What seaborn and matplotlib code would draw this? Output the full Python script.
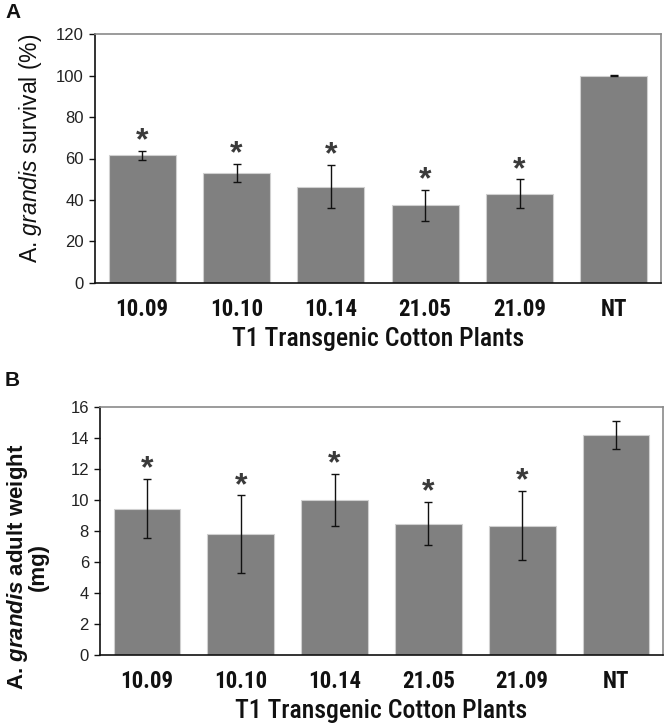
import matplotlib
matplotlib.use("Agg")
import matplotlib.pyplot as plt
import seaborn as sns
import pandas as pd
import numpy as np
from matplotlib import font_manager as fm

plants = ["10.09", "10.10", "10.14", "21.05", "21.09", "NT"]
survival = [61.5, 53.2, 46.5, 37.5, 43.0, 100.0]
survival_err = [2.3, 4.3, 10.5, 7.5, 7.0, 0.2]
weight = [9.45, 7.8, 10.02, 8.48, 8.35, 14.17]
weight_err = [1.9, 2.5, 1.68, 1.4, 2.25, 0.9]
star_a = [True, True, True, True, True, False]
star_b = [True, True, True, True, True, False]

sns.set_theme(style="white")

avail = {f.name for f in fm.fontManager.ttflist}
narrow = next((f for f in ["Liberation Sans Narrow", "Roboto Condensed", "Open Sans Condensed", "Liberation Sans"] if f in avail), "DejaVu Sans")
arial = "Liberation Sans" if "Liberation Sans" in avail else "DejaVu Sans"

plt.rcParams["font.family"] = [arial, "DejaVu Sans"]
plt.rcParams["mathtext.fontset"] = "custom"
plt.rcParams["mathtext.rm"] = arial
plt.rcParams["mathtext.it"] = arial + ":italic"
plt.rcParams["mathtext.bf"] = arial + ":bold"
plt.rcParams["mathtext.bfit"] = arial + ":bold:italic"

W, H = 666, 728
fig = plt.figure(figsize=(W / 100, H / 100), dpi=100)

def px_axes(l, t, r, b):
    return fig.add_axes([l / W, 1 - b / H, (r - l) / W, (b - t) / H])

axA = px_axes(95, 34, 661, 283)
axB = px_axes(100, 407, 663, 655)

bar_color = "#808080"

def draw(ax, vals, errs, stars, ymax, ystep):
    df = pd.DataFrame({"plant": plants, "value": vals})
    sns.barplot(data=df, x="plant", y="value", color=bar_color, saturation=1,
                width=0.71, errorbar=None, edgecolor="#d0d0d0", linewidth=0.8, ax=ax)
    x = np.arange(len(plants))
    ax.errorbar(x, vals, yerr=errs, fmt="none", ecolor="#111111", elinewidth=1.0,
                capsize=3, capthick=1.0)
    for i, (v, e, s) in enumerate(zip(vals, errs, stars)):
        if s:
            ax.annotate("*", (i, v + e), xytext=(0, -4), textcoords="offset points",
                        ha="center", va="bottom", fontsize=23, fontweight="bold",
                        color="#3a3a3a", family=arial)
    ax.set_xlim(-0.5, len(plants) - 0.5)
    ax.set_ylim(0, ymax)
    ax.set_yticks(np.arange(0, ymax + 0.001, ystep))
    ax.set_yticklabels([f"{int(t)}" for t in np.arange(0, ymax + 0.001, ystep)],
                       fontsize=12, color="#222222")
    ax.set_xticks(x)
    ax.set_xticklabels(plants, fontsize=16.5, fontweight="bold", family=narrow, color="#111111")
    ax.set_xticks(np.arange(-0.5, len(plants)), minor=True)
    ax.tick_params(axis="x", which="major", length=0, pad=11)
    ax.tick_params(axis="x", which="minor", length=5, width=1, color="#111111", direction="out")
    ax.tick_params(axis="y", which="major", length=4, width=1, color="#111111", direction="out", left=True, pad=4)
    ax.set_xlabel("T1 Transgenic Cotton Plants", fontsize=18.5, family=narrow,
                  fontweight="medium", color="#111111", labelpad=4)
    for sp in ["left", "bottom"]:
        ax.spines[sp].set_color("#111111")
        ax.spines[sp].set_linewidth(1.2)
    for sp in ["top", "right"]:
        ax.spines[sp].set_color("#8a8a8a")
        ax.spines[sp].set_linewidth(1.2)

draw(axA, survival, survival_err, star_a, 120, 20)
draw(axB, weight, weight_err, star_b, 16, 2)

axA.set_ylabel("")
axB.set_ylabel("")
fig.text(31 / W, 1 - 148 / H, r"A. $\mathit{grandis}$ survival (%)", rotation=90,
         ha="center", va="center", fontsize=16.5, color="#111111")
fig.text(27 / W, 1 - 567 / H, "A. $\\mathbfit{grandis}$ adult weight\n(mg)", rotation=90,
         ha="center", va="center", fontsize=16, fontweight="bold", color="#111111",
         multialignment="center", linespacing=0.9)

fig.text(5 / W, 1 - 13 / H, "A", fontsize=15, fontweight="bold", ha="left", va="center", color="#111111")
fig.text(5 / W, 1 - 380 / H, "B", fontsize=15, fontweight="bold", ha="left", va="center", color="#111111")

fig.savefig("out.png", dpi=100)
